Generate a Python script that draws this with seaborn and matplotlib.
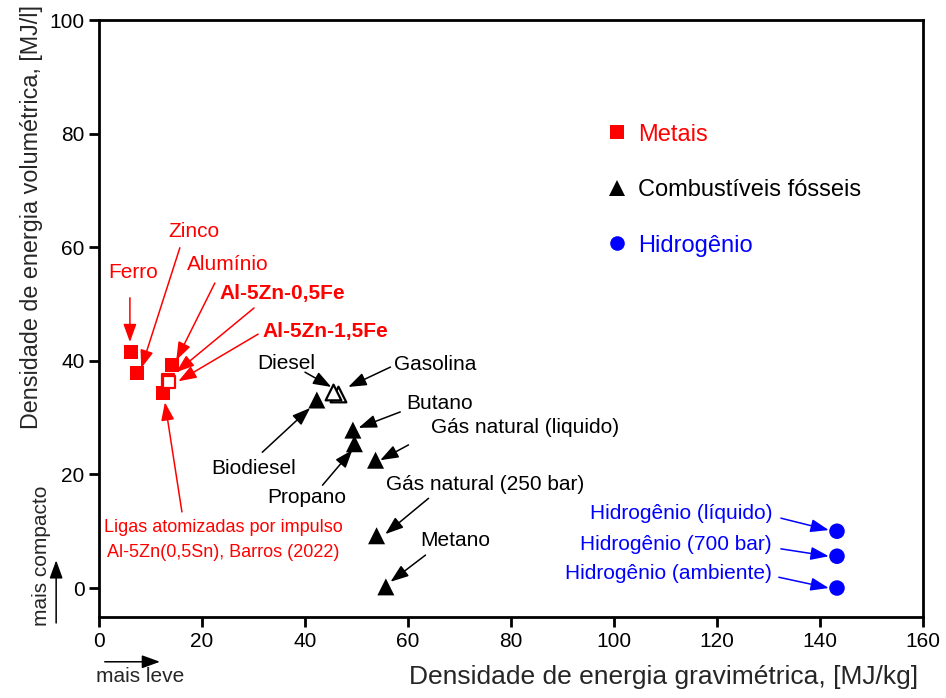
import matplotlib
matplotlib.use("Agg")
import matplotlib.pyplot as plt
import seaborn as sns
import pandas as pd
from matplotlib.lines import Line2D

# ---- data: gravimetric [MJ/kg] and volumetric [MJ/l] energy density ----
metal_names = ["Ferro", "Zinco", "Alumínio", "Al-5Zn-0,5Fe", "Al-5Zn-1,5Fe",
               "Ligas atomizadas"]
metal_grav = [6.2, 7.3, 14.1, 13.4, 13.6, 12.4]
metal_vol = [41.6, 37.9, 39.3, 36.6, 36.3, 34.4]
metal_filled = [True, True, True, False, False, True]

fossil_names = ["Gasolina", "Diesel", "Biodiesel", "Butano", "Propano",
                "Gás natural (liquido)", "Gás natural (250 bar)", "Metano"]
fossil_grav = [46.5, 45.5, 42.3, 49.3, 49.6, 53.7, 53.9, 55.7]
fossil_vol = [34.2, 34.5, 33.1, 27.8, 25.4, 22.5, 9.2, 0.2]
fossil_filled = [False, False, True, True, True, True, True, True]

h2_names = ["Hidrogênio (líquido)", "Hidrogênio (700 bar)", "Hidrogênio (ambiente)"]
h2_grav = [143.3, 143.3, 143.3]
h2_vol = [10.0, 5.6, 0.0]
h2_filled = [True, True, True]

group_labels = ["Metais", "Combustíveis fósseis", "Hidrogênio"]
x_ticks = [0, 20, 40, 60, 80, 100, 120, 140, 160]
y_ticks = [0, 20, 40, 60, 80, 100]

RED, BLACK, BLUE = "#ff0000", "#000000", "#0000ff"
palette = {"Metais": RED, "Combustíveis fósseis": BLACK, "Hidrogênio": BLUE}
markers = {"Metais": "s", "Combustíveis fósseis": "^", "Hidrogênio": "o"}
sizes = {"Metais": 100, "Combustíveis fósseis": 150, "Hidrogênio": 125}

df = pd.concat([
    pd.DataFrame({"nome": metal_names, "grav": metal_grav, "vol": metal_vol,
                  "cheio": metal_filled, "grupo": group_labels[0]}),
    pd.DataFrame({"nome": fossil_names, "grav": fossil_grav, "vol": fossil_vol,
                  "cheio": fossil_filled, "grupo": group_labels[1]}),
    pd.DataFrame({"nome": h2_names, "grav": h2_grav, "vol": h2_vol,
                  "cheio": h2_filled, "grupo": group_labels[2]}),
], ignore_index=True)

sns.set_theme(style="ticks")
plt.rcParams["font.family"] = ["Liberation Sans", "DejaVu Sans"]

fig = plt.figure(figsize=(9.46, 6.98), dpi=100)
ax = fig.add_axes([99 / 946, 1 - 617 / 698, 824 / 946, 597 / 698])

filled = df[df["cheio"]]
sns.scatterplot(data=filled, x="grav", y="vol", hue="grupo", style="grupo",
                size="grupo", palette=palette, markers=markers, sizes=sizes,
                linewidth=0, legend=False, ax=ax, zorder=3)

hollow = df[~df["cheio"]]
for grupo, sub in hollow.groupby("grupo", sort=False):
    sns.scatterplot(data=sub, x="grav", y="vol", marker=markers[grupo],
                    s=sizes[grupo] * 0.85, color="white",
                    edgecolor=palette[grupo], linewidth=1.6,
                    legend=False, ax=ax, zorder=4)

ax.set_xlim(0, 160)
ax.set_ylim(-5.1, 100)
ax.set_xticks(x_ticks)
ax.set_yticks(y_ticks)
ax.tick_params(direction="out", length=7, width=2, labelsize=15, colors="black")
for sp in ax.spines.values():
    sp.set_linewidth(2)
    sp.set_color("black")

ax.set_xlabel("Densidade de energia gravimétrica, [MJ/kg]", fontsize=19)
ax.set_ylabel("Densidade de energia volumétrica, [MJ/l]", fontsize=16.8)
ax.xaxis.set_label_coords(0.685, -0.080)
ax.yaxis.set_label_coords(-0.068, 0.670)


def arrow(tail, head, color):
    ax.annotate("", xy=head, xytext=tail,
                arrowprops=dict(arrowstyle="-|>,head_length=0.55,head_width=0.2",
                                color=color, lw=1.1, shrinkA=0, shrinkB=0,
                                mutation_scale=20), zorder=5)


# labels: (text, text position, arrow tail, arrow head, color, weight)
labels = [
    ("Ferro", (6.6, 55.5), (6.0, 51.1), (6.0, 43.3), RED, "normal"),
    ("Zinco", (18.5, 62.7), (15.7, 59.9), (8.2, 38.7), RED, "normal"),
    ("Alumínio", (25.1, 57.0), (22.5, 53.7), (15.0, 40.1), RED, "normal"),
    ("Al-5Zn-0,5Fe", (35.6, 51.8), (30.1, 49.3), (15.0, 38.0), RED, "bold"),
    ("Al-5Zn-1,5Fe", (43.9, 45.1), (30.9, 44.7), (15.4, 36.4), RED, "bold"),
    ("Diesel", (36.3, 39.6), (40.0, 38.0), (45.1, 35.4), BLACK, "normal"),
    ("Gasolina", (65.3, 39.4), (56.6, 38.9), (48.4, 35.4), BLACK, "normal"),
    ("Biodiesel", (30.1, 21.0), (31.7, 23.9), (41.0, 31.7), BLACK, "normal"),
    ("Butano", (66.1, 32.4), (58.5, 31.0), (50.4, 28.2), BLACK, "normal"),
    ("Propano", (40.4, 16.0), (43.4, 18.1), (49.2, 24.3), BLACK, "normal"),
    ("Gás natural (liquido)", (82.8, 28.2), (60.1, 25.2), (54.6, 22.5), BLACK, "normal"),
    ("Gás natural (250 bar)", (75.0, 18.3), (64.0, 15.8), (55.6, 9.5), BLACK, "normal"),
    ("Metano", (69.2, 8.3), (63.4, 5.8), (56.6, 1.1), BLACK, "normal"),
]
for txt, pos, tail, head, col, wt in labels:
    ax.text(pos[0], pos[1], txt, color=col, fontsize=15, fontweight=wt,
            ha="center", va="center", zorder=6)
    arrow(tail, head, col)

h2_labels = [
    ("Hidrogênio (líquido)", 13.2, (132.4, 12.3), (141.7, 10.2)),
    ("Hidrogênio (700 bar)", 7.6, (132.4, 6.9), (141.7, 5.6)),
    ("Hidrogênio (ambiente)", 2.5, (132.0, 1.9), (141.7, 0.0)),
]
for txt, yy, tail, head in h2_labels:
    ax.text(130.7, yy, txt, color=BLUE, fontsize=15, ha="right", va="center")
    arrow(tail, head, BLUE)

ax.text(24.1, 10.7, "Ligas atomizadas por impulso", color=RED, fontsize=13,
        ha="center", va="center")
ax.text(24.1, 6.2, "Al-5Zn(0,5Sn), Barros (2022)", color=RED, fontsize=13,
        ha="center", va="center")
arrow((16.1, 13.4), (12.8, 32.7), RED)

# direction hints outside the axes
ax.annotate("", xy=(0.074, -0.075), xytext=(0.007, -0.075), xycoords="axes fraction",
            arrowprops=dict(arrowstyle="-|>,head_length=0.55,head_width=0.2",
                            color="black", lw=1.1, shrinkA=0, shrinkB=0,
                            mutation_scale=20), annotation_clip=False)
ax.text(0.05, -0.10, "mais leve", transform=ax.transAxes, fontsize=15,
        ha="center", va="center")
ax.annotate("", xy=(-0.052, 0.095), xytext=(-0.052, -0.01), xycoords="axes fraction",
            arrowprops=dict(arrowstyle="-|>,head_length=0.55,head_width=0.2",
                            color="black", lw=1.1, shrinkA=0, shrinkB=0,
                            mutation_scale=20), annotation_clip=False)
ax.text(-0.070, 0.102, "mais compacto", transform=ax.transAxes, fontsize=15,
        ha="center", va="center", rotation=90)

handles = [Line2D([], [], ls="", marker=markers[g], color=palette[g],
                  markersize=ms, markeredgewidth=0)
           for g, ms in zip(group_labels, [9.5, 11.5, 10.5])]
leg = ax.legend(handles, group_labels, loc="upper left",
                bbox_to_anchor=(0.588, 0.862), frameon=False, fontsize=17,
                labelspacing=1.42, handlelength=1.0, handletextpad=0.4,
                labelcolor=[RED, BLACK, BLUE])

fig.savefig("out.png", dpi=100)
